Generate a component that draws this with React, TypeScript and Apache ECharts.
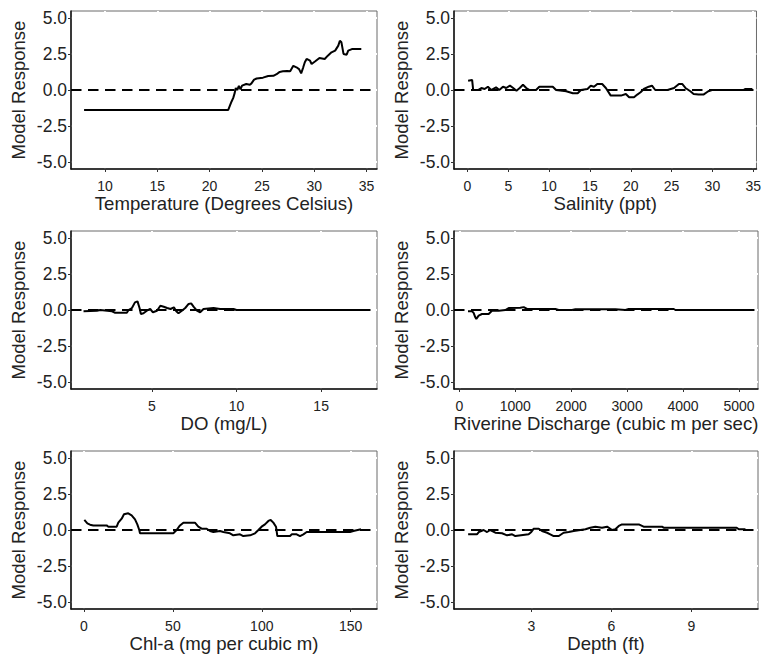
import React, { useEffect, useRef } from "react";
import * as echarts from "echarts";

// ---- data (x, model response) ----
const temperatureCurve: number[][] = [
  [8.0, -1.39], [21.78, -1.39], [21.94, -1.09], [22.1, -0.8], [22.26, -0.55], [22.4, -0.2],
  [22.5, 0.14], [22.64, 0.0], [22.8, 0.28], [22.95, 0.05], [23.1, 0.3], [23.5, 0.42],
  [23.85, 0.37], [24.0, 0.46], [24.25, 0.72], [24.5, 0.8], [25.1, 0.86], [25.6, 0.97],
  [26.1, 0.99], [26.4, 1.1], [26.7, 1.26], [27.0, 1.3], [27.4, 1.33], [27.7, 1.3],
  [28.0, 1.68], [28.3, 1.58], [28.55, 1.45], [28.75, 1.16], [28.95, 1.58], [29.1, 1.93],
  [29.27, 2.16], [29.6, 2.04], [29.75, 1.81], [30.1, 2.0], [30.5, 2.23], [31.0, 2.16],
  [31.3, 2.39], [31.65, 2.62], [32.0, 2.74], [32.3, 3.09], [32.45, 3.43], [32.6, 3.32],
  [32.8, 2.51], [33.1, 2.46], [33.25, 2.74], [33.6, 2.85], [34.5, 2.85],
];
const salinityCurve: number[][] = [
  [0.08, 0.65], [0.57, 0.7], [0.7, 0.0], [1.3, 0.0], [1.7, 0.14], [2.1, 0.07], [2.5, 0.23],
  [2.9, 0.0], [3.5, 0.19], [3.9, 0.0], [4.35, 0.23], [4.75, 0.14], [5.2, 0.3], [5.6, 0.14],
  [6.0, -0.05], [6.4, 0.14], [6.8, 0.37], [7.2, 0.14], [7.6, 0.0], [8.4, 0.0], [8.8, 0.23],
  [10.45, 0.23], [10.85, 0.0], [12.1, -0.09], [12.9, -0.23], [13.5, -0.23], [13.9, 0.0],
  [14.7, 0.07], [15.1, 0.3], [15.5, 0.23], [15.9, 0.42], [16.5, 0.42], [16.95, 0.14],
  [17.55, -0.39], [18.8, -0.39], [19.4, -0.28], [19.8, -0.51], [20.4, -0.51], [20.8, -0.32],
  [21.2, -0.16], [21.6, 0.07], [22.2, 0.23], [22.6, 0.3], [23.0, 0.0], [24.5, 0.0],
  [25.3, 0.14], [25.9, 0.42], [26.3, 0.42], [26.7, 0.14], [27.3, -0.09], [27.7, -0.28],
  [28.3, -0.32], [28.9, -0.32], [29.5, -0.09], [29.95, 0.0], [33.8, 0.0], [34.0, 0.07],
  [34.9, 0.07],
];
const doCurve: number[][] = [
  [0.96, -0.09], [1.75, -0.05], [1.95, 0.0], [2.64, -0.09], [2.83, -0.19], [3.52, -0.19],
  [3.62, 0.0], [3.82, 0.14], [4.0, 0.53], [4.15, 0.6], [4.27, 0.14], [4.35, -0.28],
  [4.5, -0.23], [4.7, -0.05], [4.9, 0.07], [5.06, -0.16], [5.3, -0.05], [5.5, 0.3],
  [5.7, 0.23], [5.9, 0.14], [6.1, 0.07], [6.3, 0.19], [6.44, -0.09], [6.57, -0.23],
  [6.77, -0.05], [6.97, 0.14], [7.17, 0.42], [7.32, 0.46], [7.46, 0.23], [7.66, -0.05],
  [7.85, -0.16], [8.05, 0.07], [8.64, 0.14], [9.03, 0.07], [9.82, 0.07], [10.0, 0.0],
  [17.85, 0.0],
];
const dischargeCurve: number[][] = [
  [155, -0.09], [227, -0.09], [256, -0.2], [286, -0.51], [304, -0.63], [346, -0.39],
  [405, -0.28], [525, -0.28], [584, -0.05], [704, -0.05], [823, 0.0], [883, 0.14],
  [1090, 0.16], [1151, 0.2], [1211, 0.07], [1717, 0.07], [1777, 0.0], [2016, 0.0],
  [2075, 0.05], [2791, 0.05], [2970, 0.0], [3029, 0.07], [3834, 0.07], [3864, 0.0],
  [5277, 0.0],
];
const chlaCurve: number[][] = [
  [0.2, 0.7], [1.9, 0.46], [3.4, 0.37], [5.25, 0.32], [12.75, 0.32], [13.7, 0.23],
  [18.4, 0.23], [19.3, 0.51], [21.2, 0.79], [22.5, 1.09], [24.9, 1.16], [26.8, 1.02],
  [28.7, 0.74], [30.0, 0.39], [31.1, 0.0], [31.5, -0.23], [50.25, -0.23], [52.1, 0.0],
  [54.0, 0.32], [55.9, 0.51], [62.4, 0.51], [64.3, 0.23], [66.2, 0.09], [69.0, 0.09],
  [70.9, -0.07], [72.75, -0.14], [76.5, -0.07], [78.4, -0.14], [82.1, -0.23], [84.0, -0.37],
  [87.75, -0.3], [89.6, -0.42], [93.4, -0.37], [96.2, -0.23], [98.1, 0.0], [99.9, 0.23],
  [101.8, 0.39], [103.7, 0.63], [105.0, 0.7], [106.5, 0.51], [108.0, 0.23], [108.75, -0.42],
  [115.9, -0.42], [116.8, -0.3], [119.6, -0.3], [121.5, -0.42], [123.4, -0.3], [125.25, -0.14],
  [149.6, -0.14], [151.5, -0.07], [155.8, 0.05],
];
const depthCurve: number[][] = [
  [0.63, -0.3], [0.96, -0.3], [1.03, -0.14], [1.21, 0.0], [1.34, -0.14], [1.46, 0.0],
  [1.65, -0.19], [1.9, -0.23], [2.09, -0.37], [2.28, -0.3], [2.4, -0.42], [2.9, -0.3],
  [3.0, -0.14], [3.09, 0.09], [3.28, 0.09], [3.4, -0.07], [3.59, -0.19], [3.71, -0.3],
  [3.84, -0.42], [4.03, -0.42], [4.21, -0.19], [4.4, -0.14], [4.59, -0.07], [4.84, 0.0],
  [5.03, 0.05], [5.21, 0.16], [5.4, 0.23], [5.65, 0.16], [5.84, 0.23], [6.03, 0.0],
  [6.15, 0.05], [6.28, 0.28], [6.4, 0.39], [7.03, 0.39], [7.21, 0.23], [7.9, 0.23],
  [7.96, 0.16], [10.7, 0.16], [10.78, 0.05], [11.03, 0.05],
];

const xTitles = [
  "Temperature (Degrees Celsius)", "Salinity (ppt)", "DO (mg/L)",
  "Riverine Discharge (cubic m per sec)", "Chl-a (mg per cubic m)", "Depth (ft)",
];
const xTicks: number[][] = [
  [10, 15, 20, 25, 30, 35],
  [0, 5, 10, 15, 20, 25, 30, 35],
  [5, 10, 15],
  [0, 1000, 2000, 3000, 4000, 5000],
  [0, 50, 100, 150],
  [3, 6, 9],
];
const xRanges: number[][] = [
  [6.75, 36.0], [-1.65, 35.4], [0.22, 18.3], [-95, 5340], [-7.3, 164.8], [0.1, 11.5],
];
const yTicks = [-5, -2.5, 0, 2.5, 5];
const yTitle = "Model Response";
const curves = [temperatureCurve, salinityCurve, doCurve, dischargeCurve, chlaCurve, depthCurve];

const FONT = "'Liberation Sans', Arial, sans-serif";

export default function App() {
  const ref = useRef<HTMLDivElement>(null);
  useEffect(() => {
    if (!ref.current) return;
    const chart = echarts.init(ref.current, null, { renderer: "svg" });
    const grids: any[] = [];
    const xAxes: any[] = [];
    const yAxes: any[] = [];
    const series: any[] = [];
    curves.forEach((curve, i) => {
      const col = i % 2;
      const row = Math.floor(i / 2);
      grids.push({
        left: col === 0 ? 71 : 454,
        top: 11 + row * 220,
        width: col === 0 ? 306 : 304,
        height: 158,
        show: true,
        borderColor: "#6a6a6a",
        borderWidth: 1,
        z: 0,
      });
      // real axes (index 2*i) and white-gridline axes (index 2*i+1)
      xAxes.push({
        type: "value",
        gridIndex: i,
        z: 2,
        min: xRanges[i][0],
        max: xRanges[i][1],
        name: xTitles[i],
        nameLocation: "middle",
        nameGap: 24,
        nameTextStyle: { fontSize: 18.6, color: "#222", fontFamily: FONT },
        axisLine: { show: true, onZero: false, lineStyle: { color: "#111", width: 1.5 } },
        axisTick: { show: true, length: 3, customValues: xTicks[i], lineStyle: { color: "#333", width: 1 } },
        axisLabel: {
          customValues: xTicks[i],
          fontSize: 14,
          color: "#222",
          margin: 10,
          fontFamily: FONT,
          formatter: (v: number) => String(v),
        },
        splitLine: { show: false },
      });
      xAxes.push({
        type: "value",
        gridIndex: i,
        z: 1,
        min: xRanges[i][0],
        max: xRanges[i][1],
        axisLine: { show: false, onZero: false },
        axisTick: { show: false, customValues: xTicks[i] },
        axisLabel: { show: false, customValues: xTicks[i] },
        splitLine: { show: true, lineStyle: { color: "#fff", width: 2 } },
      });
      yAxes.push({
        type: "value",
        gridIndex: i,
        z: 2,
        min: -5.5,
        max: 5.5,
        name: yTitle,
        nameLocation: "middle",
        nameGap: 43,
        nameRotate: 90,
        nameTextStyle: { fontSize: 18.5, color: "#222", fontFamily: FONT },
        axisLine: { show: true, onZero: false, lineStyle: { color: "#111", width: 1.5 } },
        axisTick: { show: true, length: 3, customValues: yTicks, lineStyle: { color: "#333", width: 1 } },
        axisLabel: {
          customValues: yTicks,
          fontSize: 17.5,
          color: "#222",
          margin: 4,
          fontFamily: FONT,
          formatter: (v: number) => v.toFixed(1),
        },
        splitLine: { show: false },
      });
      yAxes.push({
        type: "value",
        gridIndex: i,
        z: 1,
        min: -5.5,
        max: 5.5,
        axisLine: { show: false, onZero: false },
        axisTick: { show: false, customValues: yTicks },
        axisLabel: { show: false, customValues: yTicks },
        splitLine: { show: true, lineStyle: { color: "#fff", width: 2 } },
      });
      series.push({
        type: "line",
        xAxisIndex: 2 * i,
        yAxisIndex: 2 * i,
        data: curve,
        showSymbol: false,
        symbol: "none",
        lineStyle: { color: "#000", width: 2 },
        silent: true,
        z: 3,
      });
      series.push({
        type: "line",
        xAxisIndex: 2 * i,
        yAxisIndex: 2 * i,
        data: [[xRanges[i][0], 0], [xRanges[i][1], 0]],
        showSymbol: false,
        symbol: "none",
        lineStyle: { color: "#000", width: 2, type: [10.5, 6.5] },
        silent: true,
        z: 4,
      });
    });
    chart.setOption({
      animation: false,
      backgroundColor: "#fff",
      grid: grids,
      xAxis: xAxes,
      yAxis: yAxes,
      series,
    });
    return () => chart.dispose();
  }, []);
  return (
    <div
      ref={ref}
      style={{ position: "fixed", left: 0, top: 0, width: 764, height: 658 }}
    />
  );
}
